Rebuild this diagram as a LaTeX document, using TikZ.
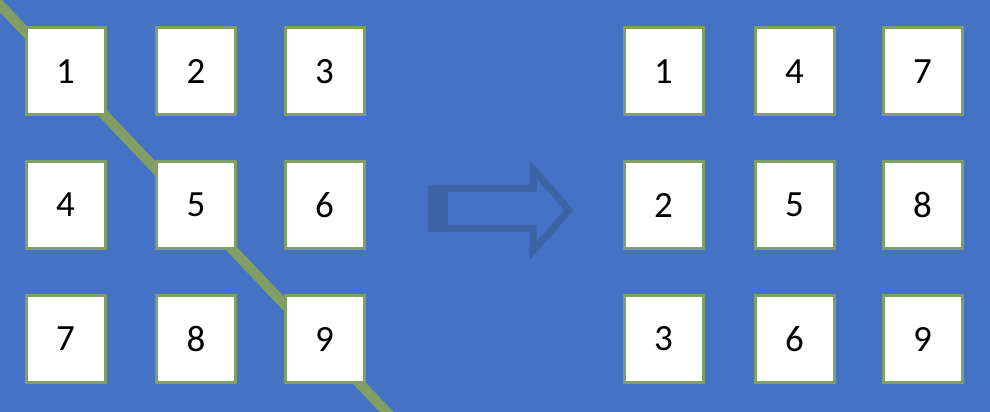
\documentclass[tikz,border=0pt]{standalone}
\usepackage{fontspec}
\setmainfont{Carlito}
\definecolor{bgblue}{HTML}{4472C4}
\definecolor{arrblue}{HTML}{3B64A6}
\definecolor{boxgreen}{HTML}{819F64}
\tikzset{
  cell/.style={draw=boxgreen, fill=white, line width=3pt, minimum width=79pt, minimum height=87pt, inner sep=0pt, font=\fontsize{37}{37}\selectfont, text=black},
  diag/.style={draw=boxgreen, line width=10pt},
  arrowline/.style={draw=arrblue, line width=7pt, line join=miter}
}
\begin{document}
\begin{tikzpicture}[x=1pt,y=1pt]
\fill[bgblue] (0,0) rectangle (990,412);
\useasboundingbox (0,0) rectangle (990,412);
\begin{scope}
\clip (0,0) rectangle (990,412);
\coordinate (d1) at (-10,417.5);
\coordinate (d2) at (400,-14);
\draw[diag] (d1) -- (d2);
\end{scope}
% left grid
\node[cell] (L1) at (65.5,340.5) {1};
\node[cell] (L2) at (196,340.5) {2};
\node[cell] (L3) at (324.5,340.5) {3};
\node[cell] (L4) at (65.5,207) {4};
\node[cell] (L5) at (196,207) {5};
\node[cell] (L6) at (324.5,207) {6};
\node[cell] (L7) at (65.5,73) {7};
\node[cell] (L8) at (196,73) {8};
\node[cell] (L9) at (324.5,73) {9};
% right grid
\node[cell] (R1) at (663.5,340.5) {1};
\node[cell] (R4) at (794.5,340.5) {4};
\node[cell] (R7) at (922.5,340.5) {7};
\node[cell] (R2) at (663.5,207) {2};
\node[cell] (R5) at (794.5,207) {5};
\node[cell] (R8) at (922.5,207) {8};
\node[cell] (R3) at (663.5,73) {3};
\node[cell] (R6) at (794.5,73) {6};
\node[cell] (R9) at (922.5,73) {9};
% block arrow
\draw[arrowline] (432,223.5) -- (533,223.5) -- (533,243) -- (569,202) -- (533,161) -- (533,183.5) -- (432,183.5) -- cycle;
\fill[arrblue] (428,180) rectangle (448,227);
\end{tikzpicture}
\end{document}
